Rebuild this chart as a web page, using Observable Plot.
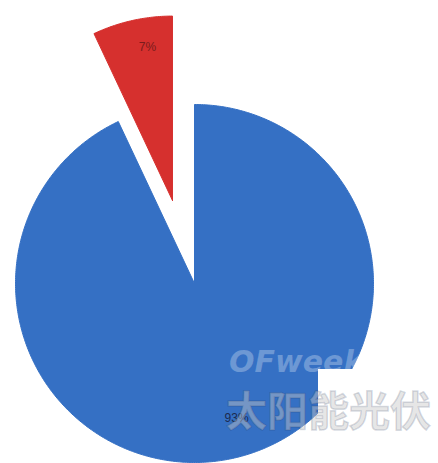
<!DOCTYPE html>
<html>
<head>
<meta charset="utf-8">
<script src="https://cdn.jsdelivr.net/npm/d3@7"></script>
<script src="https://cdn.jsdelivr.net/npm/@observablehq/plot@0.6"></script>
<style>
  html, body { margin: 0; padding: 0; background: #fff; }
  #wrap { position: relative; width: 438px; height: 463px; overflow: hidden; }
  #wm1 { position: absolute; left: 229px; top: 347px; font: italic bold 30px "DejaVu Sans", sans-serif;
         color: rgba(255,255,255,0.28); line-height: 1; white-space: nowrap; }
  #cover { position: absolute; left: 318px; top: 369px; width: 120px; height: 94px; background: #fff; }
  #wm2 { position: absolute; left: 226px; top: 388px; font: bold 41px "Noto Sans CJK SC", sans-serif;
         color: rgba(200,200,200,0.45); -webkit-text-stroke: 1.5px rgba(30,50,90,0.18); line-height: 1; white-space: nowrap; }
</style>
</head>
<body>
<div id="wrap"></div>
<script>
// Data
const labels = ["93%", "7%"];
const values = [93, 7];
const colors = ["#3570c4", "#d6302e"];
const labelColors = ["#1c2a4e", "#7a1c1c"];

// Geometry (in unit-circle coordinates)
const explodeOffset = [[0, 0], [-0.123, 0.464]];
const radius = [1, 1.03];
const labelK = [0.77, 0.87];
const labelDx = [12, 10];
const labelDy = [0, 3];

const total = d3.sum(values);
const polys = [];
const labelPts = [];
let acc = 0;
values.forEach((v, i) => {
  const a0 = acc / total * 2 * Math.PI;
  const a1 = (acc + v) / total * 2 * Math.PI;
  acc += v;
  const [ox, oy] = explodeOffset[i];
  const r = radius[i];
  const pts = [{x: ox, y: oy}];
  const n = Math.max(2, Math.ceil((a1 - a0) / 0.01));
  for (let k = 0; k <= n; k++) {
    const a = a0 + (a1 - a0) * k / n;
    pts.push({x: ox + r * Math.sin(a), y: oy + r * Math.cos(a)});
  }
  pts.push({x: ox, y: oy});
  polys.push(pts);
  const am = (a0 + a1) / 2;
  labelPts.push({x: ox + labelK[i] * r * Math.sin(am), y: oy + labelK[i] * r * Math.cos(am), label: labels[i], i});
});

const chart = Plot.plot({
  width: 438,
  height: 463,
  margin: 0,
  style: {background: "#fff"},
  x: {domain: [-1, 1], range: [15, 373], axis: null},
  y: {domain: [-1, 1], range: [462, 104], axis: null},
  marks: [
    ...polys.map((p, i) => Plot.line(p, {x: "x", y: "y", fill: colors[i], stroke: colors[i], strokeWidth: 1, curve: "linear"})),
    ...labelPts.map(d => Plot.text([d], {x: "x", y: "y", text: "label", fill: labelColors[d.i], fontSize: 12,
      fontFamily: "Liberation Sans, sans-serif", dx: labelDx[d.i], dy: labelDy[d.i]}))
  ]
});

const wrap = document.getElementById("wrap");
wrap.appendChild(chart);
const w1 = document.createElement("div"); w1.id = "wm1"; w1.textContent = "OFweek"; wrap.appendChild(w1);
const cv = document.createElement("div"); cv.id = "cover"; wrap.appendChild(cv);
const w2 = document.createElement("div"); w2.id = "wm2"; w2.textContent = "太阳能光伏"; wrap.appendChild(w2);
</script>
</body>
</html>
